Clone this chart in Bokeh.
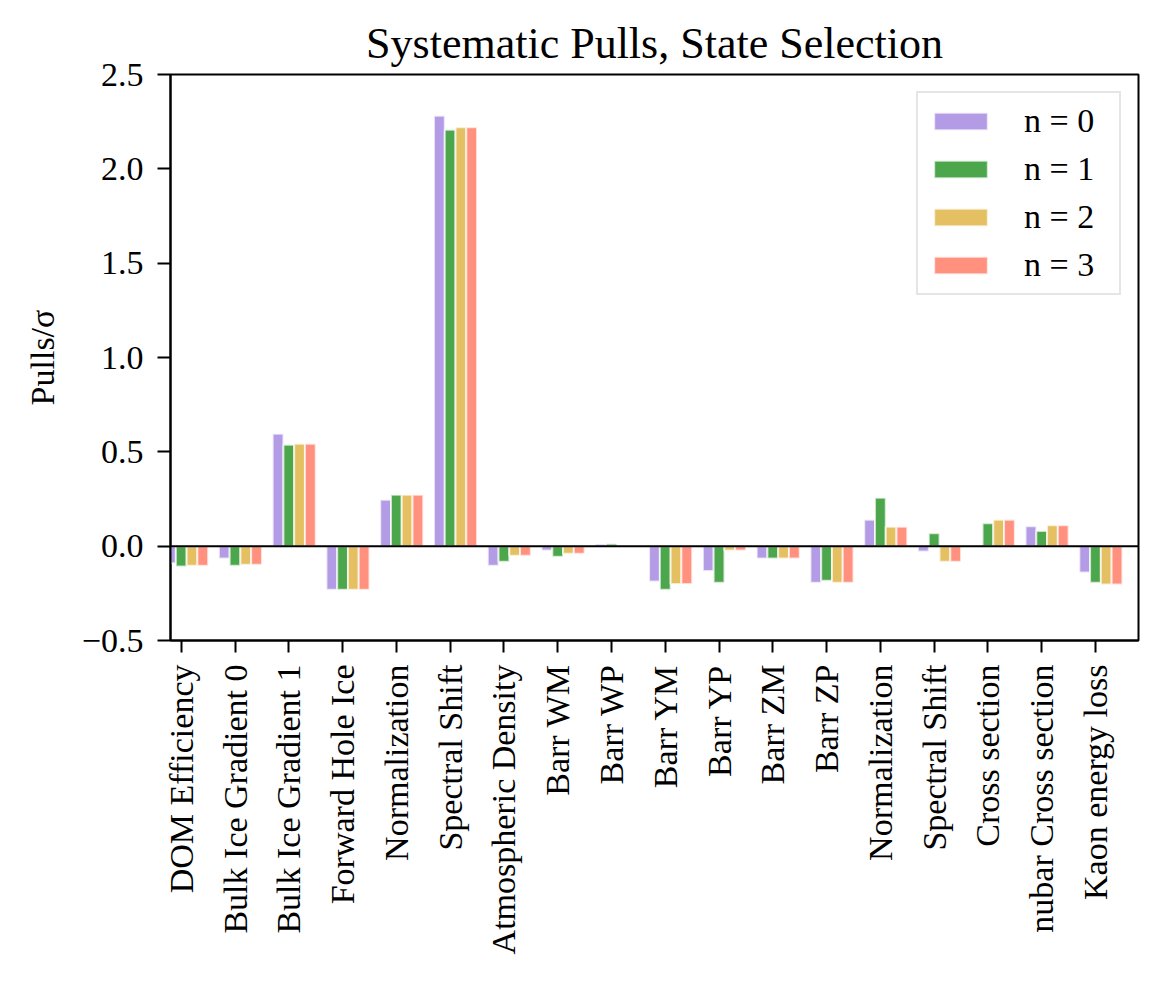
import math
from bokeh.plotting import figure
from bokeh.models import Range1d, FixedTicker, Span, Legend, LegendItem, ColumnDataSource
from bokeh.embed import file_html
from bokeh.resources import INLINE

categories = [
    "DOM Efficiency", "Bulk Ice Gradient 0", "Bulk Ice Gradient 1", "Forward Hole Ice",
    "Normalization", "Spectral Shift", "Atmospheric Density", "Barr WM", "Barr WP",
    "Barr YM", "Barr YP", "Barr ZM", "Barr ZP", "Normalization", "Spectral Shift",
    "Cross section", "nubar Cross section", "Kaon energy loss",
]
pulls_n0 = [-0.090, -0.065, 0.596, -0.231, 0.246, 2.281, -0.104, -0.023, 0.011,
            -0.187, -0.131, -0.065, -0.194, 0.140, -0.028, 0.002, 0.106, -0.139]
pulls_n1 = [-0.108, -0.104, 0.537, -0.231, 0.272, 2.207, -0.083, -0.056, 0.013,
            -0.231, -0.194, -0.065, -0.183, 0.256, 0.069, 0.122, 0.081, -0.194]
pulls_n2 = [-0.104, -0.099, 0.543, -0.231, 0.272, 2.220, -0.051, -0.040, 0.000,
            -0.200, -0.023, -0.065, -0.194, 0.103, -0.083, 0.140, 0.111, -0.203]
pulls_n3 = [-0.104, -0.099, 0.543, -0.231, 0.272, 2.220, -0.051, -0.040, 0.000,
            -0.200, -0.023, -0.065, -0.194, 0.103, -0.083, 0.140, 0.111, -0.203]
series_labels = ["n = 0", "n = 1", "n = 2", "n = 3"]
series_colors = ["mediumpurple", "green", "goldenrod", "tomato"]
y_ticks = [-0.5, 0.0, 0.5, 1.0, 1.5, 2.0, 2.5]
y_tick_labels = ["\u22120.5", "0.0", "0.5", "1.0", "1.5", "2.0", "2.5"]

FONT = "Liberation Serif"
bar_w = 0.2
offsets = [-0.2, 0.0, 0.2, 0.4]

p = figure(width=1150, height=990, output_backend="svg", toolbar_location=None,
           x_range=Range1d(-0.2, 17.8), y_range=Range1d(-0.5, 2.5),
           min_border_left=170, min_border_right=12, min_border_top=74,
           min_border_bottom=350)

p.title.text = "Systematic Pulls, State Selection"
p.title.text_font = FONT
p.title.text_font_size = "44px"
p.title.text_font_style = "normal"
p.title.text_color = "black"
p.title.align = "center"
p.title.standoff = 14

renderers = []
for vals, lab, col, off in zip([pulls_n0, pulls_n1, pulls_n2, pulls_n3],
                               series_labels, series_colors, offsets):
    src = ColumnDataSource(dict(x=[i + off for i in range(len(categories))], top=vals))
    r = p.vbar(x="x", top="top", bottom=0, width=bar_w, source=src,
               fill_color=col, fill_alpha=0.7,
               line_color="white", line_alpha=0.7, line_width=2)
    renderers.append((lab, r))

p.add_layout(Span(location=0, dimension="width", line_color="black", line_width=2))

legend = Legend(items=[LegendItem(label=lab, renderers=[r]) for lab, r in renderers],
                location="top_right")
legend.margin = 17
legend.padding = 9
legend.glyph_width = 67
legend.glyph_height = 22
legend.label_standoff = 30
legend.label_width = 86
legend.label_height = 38
legend.spacing = 10
legend.label_text_font = FONT
legend.label_text_font_size = "34px"
legend.label_text_color = "black"
legend.border_line_color = "#cccccc"
legend.border_line_width = 2
legend.background_fill_alpha = 0.8
p.add_layout(legend)

p.xgrid.grid_line_color = None
p.ygrid.grid_line_color = None
p.outline_line_color = "black"
p.outline_line_width = 2
p.outline_line_alpha = 1

p.xaxis.ticker = FixedTicker(ticks=list(range(len(categories))))
p.xaxis.major_label_overrides = {i: c for i, c in enumerate(categories)}
p.xaxis.major_label_orientation = math.pi / 2
p.xaxis.major_tick_out = 12
p.xaxis.major_label_standoff = 12

p.yaxis.ticker = FixedTicker(ticks=y_ticks)
p.yaxis.major_label_overrides = {t: s for t, s in zip(y_ticks, y_tick_labels)}
p.yaxis.major_tick_out = 13
p.yaxis.major_label_standoff = 14
p.yaxis.axis_label = "Pulls/\u03c3"
p.yaxis.axis_label_standoff = 18

for ax in (p.xaxis, p.yaxis):
    ax.major_tick_in = 0
    ax.minor_tick_line_color = None
    ax.major_tick_line_width = 2
    ax.axis_line_width = 2
    ax.major_label_text_font = FONT
    ax.major_label_text_font_size = "34px"
    ax.major_label_text_color = "black"
    ax.axis_label_text_font = FONT
    ax.axis_label_text_font_size = "34px"
    ax.axis_label_text_font_style = "normal"
    ax.axis_label_text_color = "black"

open("out.html", "w").write(file_html(p, INLINE))
